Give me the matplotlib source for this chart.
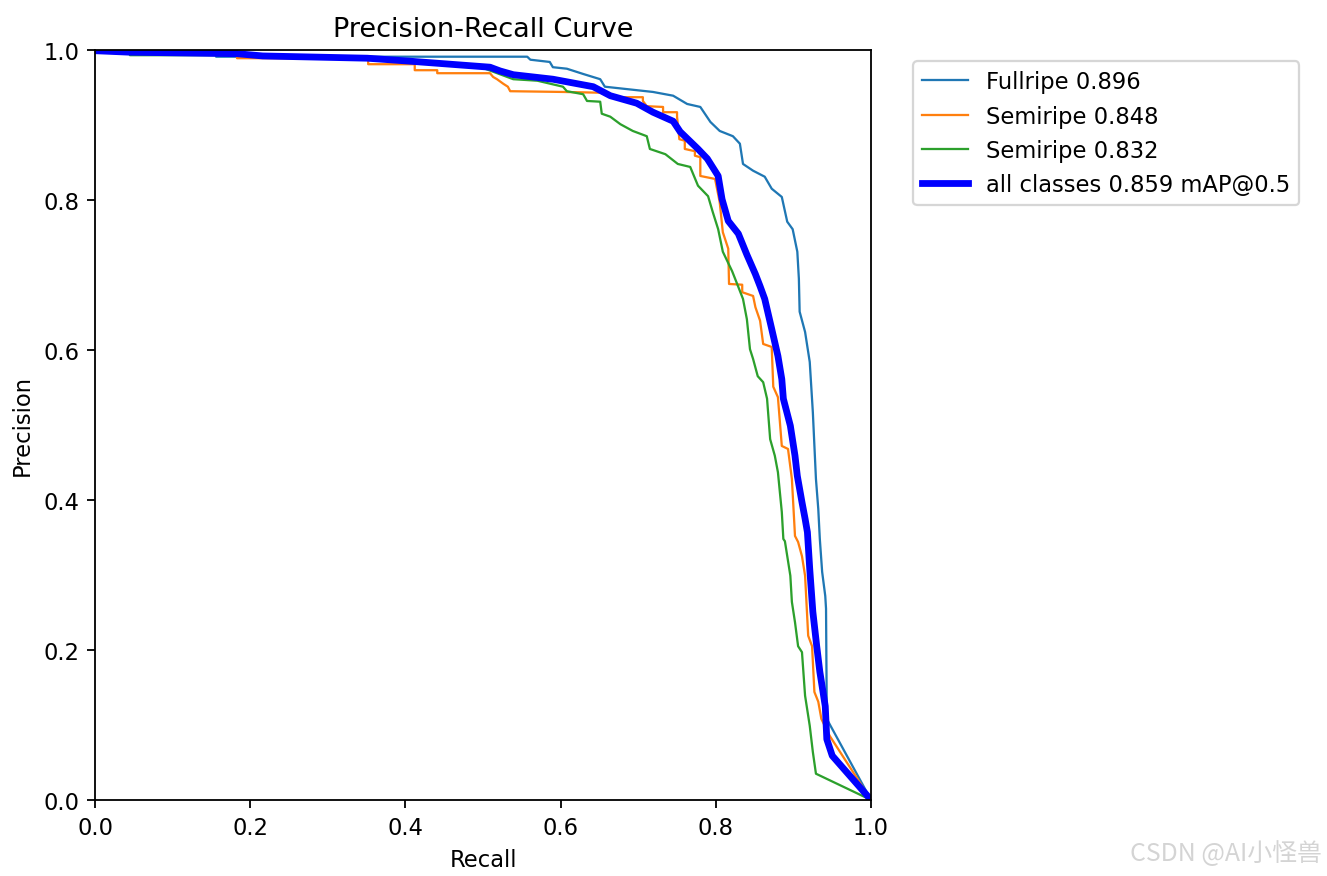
import matplotlib
matplotlib.use("Agg")
import matplotlib.pyplot as plt

# Fullripe 0.896
full_r = [0.0, 0.155, 0.156, 0.557, 0.561, 0.586, 0.590, 0.608, 0.629, 0.651, 0.657,
          0.719, 0.745, 0.763, 0.780, 0.793, 0.805, 0.822, 0.831, 0.835, 0.848, 0.863,
          0.872, 0.885, 0.892, 0.899, 0.905, 0.907, 0.908, 0.915, 0.921, 0.925, 0.929,
          0.932, 0.934, 0.937, 0.941, 0.942, 0.943, 1.0]
full_p = [1.0, 0.999, 0.991, 0.991, 0.987, 0.984, 0.977, 0.975, 0.968, 0.961, 0.951,
          0.944, 0.939, 0.928, 0.924, 0.904, 0.892, 0.885, 0.875, 0.848, 0.839, 0.831,
          0.815, 0.804, 0.771, 0.761, 0.731, 0.695, 0.651, 0.624, 0.584, 0.517, 0.428,
          0.388, 0.348, 0.304, 0.272, 0.255, 0.108, 0.0]

# Semiripe 0.848
semi1_r = [0.0, 0.183, 0.183, 0.215, 0.352, 0.352, 0.412, 0.412, 0.441, 0.441, 0.509,
           0.513, 0.518, 0.526, 0.532, 0.535, 0.603, 0.651, 0.668, 0.706, 0.706, 0.711,
           0.732, 0.732, 0.750, 0.750, 0.753, 0.760, 0.760, 0.773, 0.773, 0.780, 0.780,
           0.799, 0.805, 0.809, 0.816, 0.817, 0.834, 0.834, 0.848, 0.851, 0.857, 0.861,
           0.872, 0.874, 0.880, 0.885, 0.893, 0.898, 0.902, 0.906, 0.911, 0.915, 0.919,
           0.924, 0.927, 0.932, 0.936, 0.947, 1.0]
semi1_p = [1.0, 0.999, 0.989, 0.989, 0.988, 0.981, 0.981, 0.973, 0.973, 0.969, 0.969,
           0.964, 0.961, 0.955, 0.951, 0.945, 0.944, 0.943, 0.937, 0.937, 0.932, 0.925,
           0.924, 0.917, 0.917, 0.911, 0.881, 0.879, 0.868, 0.865, 0.859, 0.857, 0.832,
           0.828, 0.797, 0.757, 0.735, 0.688, 0.687, 0.677, 0.672, 0.657, 0.639, 0.608,
           0.604, 0.551, 0.537, 0.472, 0.468, 0.428, 0.352, 0.344, 0.325, 0.299, 0.219,
           0.205, 0.144, 0.131, 0.108, 0.085, 0.0]

# Semiripe 0.832
semi2_r = [0.0, 0.045, 0.045, 0.183, 0.354, 0.500, 0.539, 0.570, 0.603, 0.608, 0.629,
           0.634, 0.651, 0.653, 0.664, 0.677, 0.693, 0.711, 0.715, 0.735, 0.751, 0.767,
           0.777, 0.790, 0.796, 0.803, 0.809, 0.821, 0.829, 0.835, 0.840, 0.844, 0.848,
           0.854, 0.861, 0.866, 0.870, 0.876, 0.880, 0.885, 0.887, 0.889, 0.896, 0.898,
           0.902, 0.906, 0.911, 0.915, 0.921, 0.925, 0.929, 1.0]
semi2_p = [1.0, 0.999, 0.993, 0.993, 0.991, 0.976, 0.961, 0.959, 0.951, 0.945, 0.941,
           0.932, 0.931, 0.915, 0.911, 0.901, 0.892, 0.885, 0.868, 0.861, 0.848, 0.844,
           0.819, 0.805, 0.784, 0.761, 0.731, 0.705, 0.684, 0.668, 0.641, 0.601, 0.588,
           0.565, 0.557, 0.535, 0.481, 0.459, 0.437, 0.384, 0.348, 0.345, 0.299, 0.264,
           0.237, 0.205, 0.197, 0.139, 0.099, 0.064, 0.035, 0.0]

# all classes 0.859 mAP@0.5
all_r = [0.0, 0.045, 0.183, 0.216, 0.351, 0.406, 0.509, 0.522, 0.539, 0.590, 0.642,
         0.664, 0.698, 0.719, 0.745, 0.754, 0.777, 0.789, 0.803, 0.808, 0.816, 0.829,
         0.840, 0.851, 0.857, 0.863, 0.872, 0.880, 0.885, 0.887, 0.896, 0.902, 0.905,
         0.911, 0.915, 0.918, 0.921, 0.925, 0.930, 0.934, 0.941, 0.943, 0.950, 1.0]
all_p = [0.999, 0.997, 0.995, 0.992, 0.989, 0.985, 0.977, 0.972, 0.967, 0.961, 0.951,
         0.939, 0.929, 0.917, 0.905, 0.891, 0.868, 0.855, 0.832, 0.801, 0.772, 0.755,
         0.727, 0.701, 0.685, 0.668, 0.628, 0.592, 0.561, 0.535, 0.499, 0.459, 0.432,
         0.397, 0.375, 0.357, 0.308, 0.251, 0.205, 0.171, 0.125, 0.081, 0.059, 0.0]

names = ["Fullripe 0.896", "Semiripe 0.848", "Semiripe 0.832"]

dpi = 163
fig = plt.figure(figsize=(1327 / dpi, 877 / dpi), dpi=dpi)
ax = fig.add_axes([0.0716, 0.0867, 0.5848, 0.8552])

ax.plot(full_r, full_p, linewidth=1, label=names[0])
ax.plot(semi1_r, semi1_p, linewidth=1, label=names[1])
ax.plot(semi2_r, semi2_p, linewidth=1, label=names[2])
ax.plot(all_r, all_p, linewidth=3, color="blue", label="all classes 0.859 mAP@0.5")

ax.set_xlabel("Recall")
ax.set_ylabel("Precision")
ax.set_xlim(0, 1)
ax.set_ylim(0, 1)
ax.legend(bbox_to_anchor=(1.04, 1), loc="upper left")
ax.set_title("Precision-Recall Curve")

# watermark
fig.text(0.9965, 0.026, "CSDN @AI小怪兽", ha="right", va="center", fontsize=11,
         color="#d4d4d4", family=["Noto Sans CJK SC", "DejaVu Sans"])

fig.savefig("out.png", dpi=dpi)
